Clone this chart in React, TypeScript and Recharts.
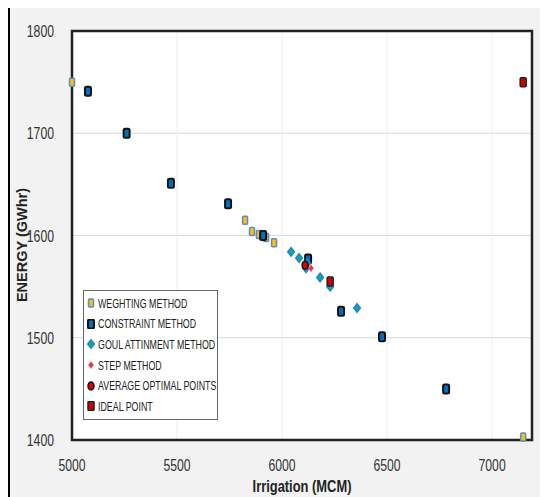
import React from "react";
import {
  ScatterChart,
  Scatter,
  XAxis,
  YAxis,
  CartesianGrid,
  ReferenceArea,
  Legend,
} from "recharts";

const xTicks = [5000, 5500, 6000, 6500, 7000];
const yTicks = [1400, 1500, 1600, 1700, 1800];

const weightingIrr = [5000, 5824, 5857, 5890, 5924, 5962, 7148];
const weightingEnergy = [1750, 1615, 1604, 1601, 1598, 1593, 1403];

const constraintIrr = [5076, 5260, 5471, 5743, 5910, 6124, 6281, 6476, 6781];
const constraintEnergy = [1741, 1700, 1651, 1631, 1600, 1577, 1526, 1501, 1450];

const goalIrr = [6043, 6081, 6114, 6120, 6181, 6229, 6357];
const goalEnergy = [1584, 1578, 1568, 1573, 1559, 1550, 1529];

const stepIrr = [6138];
const stepEnergy = [1568];

const averageIrr = [6110];
const averageEnergy = [1571];

const idealIrr = [7148, 6229];
const idealEnergy = [1750, 1555];

const zip = (xs: number[], ys: number[]) => xs.map((x, i) => ({ x, y: ys[i] }));

const sans = "'Liberation Sans', Arial, sans-serif";

type MarkerKind = "weighting" | "constraint" | "goal" | "step" | "average" | "ideal";

function Marker({ kind, cx, cy }: { kind: MarkerKind; cx: number; cy: number }) {
  switch (kind) {
    case "weighting":
      return (
        <rect x={cx - 2.5} y={cy - 4} width={5} height={8} rx={1}
          fill="#ffc000" stroke="#5b8bd0" strokeWidth={1.5} />
      );
    case "constraint":
      return (
        <rect x={cx - 3} y={cy - 4.5} width={6} height={9} rx={1.5}
          fill="#0070c0" stroke="#111" strokeWidth={2} />
      );
    case "goal":
      return (
        <path d={`M${cx},${cy - 4.5} L${cx + 3.5},${cy} L${cx},${cy + 4.5} L${cx - 3.5},${cy} Z`}
          fill="#17a39a" stroke="#1f7fd0" strokeWidth={1.2} />
      );
    case "step":
      return (
        <path d={`M${cx},${cy - 3.5} L${cx + 2.5},${cy} L${cx},${cy + 3.5} L${cx - 2.5},${cy} Z`}
          fill="#e8324a" stroke="#f07080" strokeWidth={0.8} />
      );
    case "average":
      return (
        <ellipse cx={cx} cy={cy} rx={3} ry={4}
          fill="#e00000" stroke="#111" strokeWidth={1.5} />
      );
    case "ideal":
      return (
        <rect x={cx - 3} y={cy - 4.5} width={6} height={9} rx={1}
          fill="#d00000" stroke="#222" strokeWidth={1.5} />
      );
  }
}

const series: { name: string; kind: MarkerKind; data: { x: number; y: number }[] }[] = [
  { name: "WEGHTING METHOD", kind: "weighting", data: zip(weightingIrr, weightingEnergy) },
  { name: "CONSTRAINT METHOD", kind: "constraint", data: zip(constraintIrr, constraintEnergy) },
  { name: "GOUL ATTINMENT METHOD", kind: "goal", data: zip(goalIrr, goalEnergy) },
  { name: "STEP METHOD", kind: "step", data: zip(stepIrr, stepEnergy) },
  { name: "AVERAGE OPTIMAL POINTS", kind: "average", data: zip(averageIrr, averageEnergy) },
  { name: "IDEAL POINT", kind: "ideal", data: zip(idealIrr, idealEnergy) },
];

// narrow tick text, squeezed sideways like the original condensed font
function XTick(props: any) {
  const { x, y, payload } = props;
  return (
    <text transform={`translate(${x},${y + 17}) scale(0.72,1)`} textAnchor="middle"
      fill="#333" fontSize={17} fontFamily={sans}>
      {payload.value}
    </text>
  );
}

function YTick(props: any) {
  const { x, y, payload } = props;
  return (
    <text transform={`translate(${x},${y + 6}) scale(0.72,1)`} textAnchor="end"
      fill="#333" fontSize={17} fontFamily={sans}>
      {payload.value}
    </text>
  );
}

function LegendBox() {
  return (
    <div
      style={{
        background: "#fff",
        border: "1px solid #666",
        width: 135,
        height: 130,
        padding: "2px 0 0 3px",
        boxSizing: "border-box",
        fontFamily: sans,
        fontSize: 13,
        color: "#222",
        overflow: "hidden",
      }}
    >
      {series.map((s) => (
        <div key={s.name} style={{ display: "flex", alignItems: "center", height: 20.6, whiteSpace: "nowrap" }}>
          <svg width={8} height={10} style={{ flexShrink: 0, marginRight: 3 }}>
            <Marker kind={s.kind} cx={4} cy={5} />
          </svg>
          <span style={{ display: "inline-block", transform: "scaleX(0.68)", transformOrigin: "left center" }}>
            {s.name}
          </span>
        </div>
      ))}
    </div>
  );
}

export default function App() {
  return (
    <div style={{ position: "relative", width: 548, height: 497, margin: "-8px 0 0 -8px", overflow: "hidden" }}>
      <div
        style={{
          position: "absolute",
          left: 8,
          top: 5,
          width: 542,
          height: 500,
          border: "2px solid #000",
          background: "#f2f2f2",
          boxSizing: "border-box",
        }}
      />
      <div style={{ position: "absolute", left: 0, top: 0 }}>
        <ScatterChart width={548} height={497} margin={{ top: 31, right: 16, bottom: 27, left: 22 }}>
          <CartesianGrid fill="#fff" vertical={false} stroke="#d9d9d9" />
          <CartesianGrid horizontal={false} stroke="#efefef" />
          <XAxis
            type="number"
            dataKey="x"
            domain={[5000, 7190]}
            ticks={xTicks}
            height={30}
            axisLine={false}
            tickLine={false}
            tickMargin={8}
            tick={<XTick />}
            label={{
              content: ({ viewBox }: any) => (
                <text
                  transform={`translate(${viewBox.x + viewBox.width / 2},${492}) scale(0.76,1)`}
                  textAnchor="middle"
                  fill="#222"
                  fontSize={17}
                  fontWeight={700}
                  fontFamily={sans}
                >
                  Irrigation (MCM)
                </text>
              ),
            }}
          />
          <YAxis
            type="number"
            dataKey="y"
            domain={[1400, 1800]}
            ticks={yTicks}
            width={50}
            axisLine={false}
            tickLine={false}
            tickMargin={12}
            tick={<YTick />}
            label={{
              content: () => (
                <text
                  transform={`translate(27,245) rotate(-90)`}
                  textAnchor="middle"
                  fill="#222"
                  fontSize={14.5}
                  fontWeight={700}
                  fontFamily={sans}
                >
                  ENERGY (GWhr)
                </text>
              ),
            }}
          />
          <ReferenceArea x1={5000} x2={7190} y1={1400} y2={1800} fill="none" stroke="#222" strokeWidth={2.5} ifOverflow="visible" />
          {series.map((s) => (
            <Scatter
              key={s.name}
              name={s.name}
              data={s.data}
              isAnimationActive={false}
              shape={(p: any) => <Marker kind={s.kind} cx={p.cx} cy={p.cy} />}
            />
          ))}
          <Legend
            layout="vertical"
            align="center"
            verticalAlign="middle"
            wrapperStyle={{ position: "absolute", left: 83, top: 290, width: 135 }}
            content={() => <LegendBox />}
          />
        </ScatterChart>
      </div>
    </div>
  );
}
